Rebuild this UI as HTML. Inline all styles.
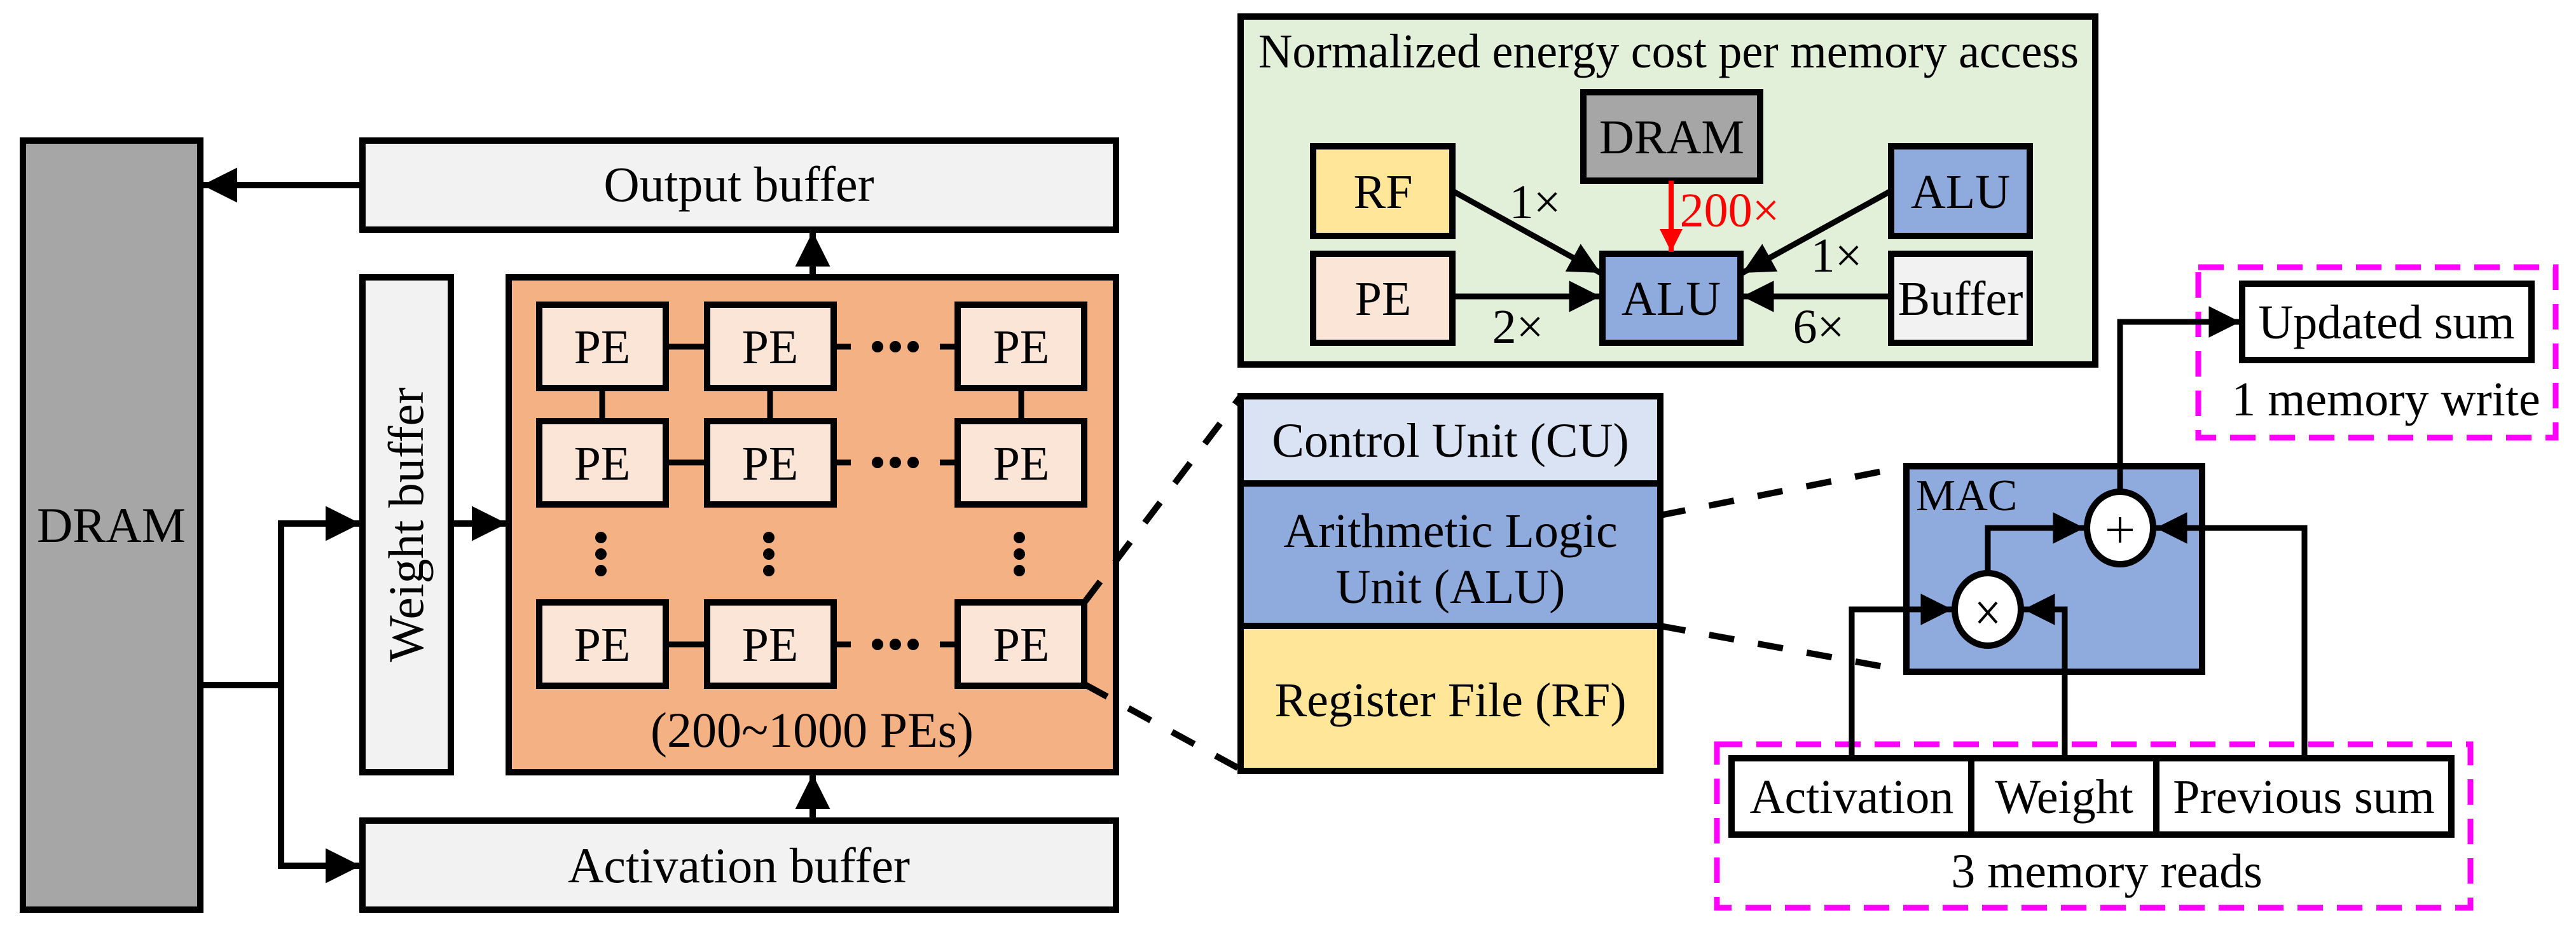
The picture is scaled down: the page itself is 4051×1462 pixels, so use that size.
<!DOCTYPE html>
<html><head><meta charset="utf-8"><style>
html,body{margin:0;padding:0;background:#fff;}
svg{display:block;}
svg text{font-family:"Liberation Serif","DejaVu Serif",serif !important;}
</style></head><body>
<svg width="4051" height="1462" viewBox="0 0 4051 1462" xmlns="http://www.w3.org/2000/svg" font-family="Liberation Serif, DejaVu Serif, serif">
<defs>
<marker id="ah" viewBox="0 0 10 10" refX="10" refY="5" markerWidth="5.5" markerHeight="5.5" markerUnits="strokeWidth" orient="auto"><path d="M0,0 L10,5 L0,10 z" fill="#000"/></marker>
<marker id="ahr" viewBox="0 0 10 10" refX="10" refY="5" markerWidth="4.5" markerHeight="4.5" markerUnits="strokeWidth" orient="auto"><path d="M0,0 L10,5 L0,10 z" fill="#f00"/></marker>
</defs>
<g stroke="#000" stroke-width="10">
<rect x="36" y="221" width="279" height="1209" fill="#a6a6a6"/>
<rect x="570" y="221" width="1185" height="140" fill="#f2f2f2"/>
<rect x="570" y="436" width="139" height="778" fill="#f2f2f2"/>
<rect x="800" y="436" width="955" height="778" fill="#f4b183"/>
<rect x="570" y="1290" width="1185" height="140" fill="#f2f2f2"/>
</g>
<text x="175" y="852" font-size="78" text-anchor="middle">DRAM</text>
<text x="1162" y="316" font-size="78" text-anchor="middle">Output buffer</text>
<text x="1162" y="1387" font-size="78" text-anchor="middle">Activation buffer</text>
<text transform="translate(665,825) rotate(-90)" font-size="78" text-anchor="middle">Weight buffer</text>
<text x="1277" y="1174" font-size="78" text-anchor="middle">(200~1000 PEs)</text>
<g stroke="#000" stroke-width="10" fill="none">
<line x1="570" y1="291" x2="318" y2="291" marker-end="url(#ah)"/>
<line x1="1278" y1="436" x2="1278" y2="364" marker-end="url(#ah)"/>
<line x1="1278" y1="1290" x2="1278" y2="1217" marker-end="url(#ah)"/>
<line x1="709" y1="823" x2="797" y2="823" marker-end="url(#ah)"/>
<polyline points="315,1077 442,1077"/>
<polyline points="442,1361 442,823 567,823" marker-end="url(#ah)"/>
<polyline points="442,1077 442,1361 567,1361" marker-end="url(#ah)"/>
</g>
<g stroke="#000" stroke-width="9">
<line x1="1047" y1="545" x2="1112" y2="545"/><line x1="1047" y1="727" x2="1112" y2="727"/><line x1="1047" y1="1013" x2="1112" y2="1013"/>
<line x1="1311" y1="545" x2="1338" y2="545"/><line x1="1478" y1="545" x2="1506" y2="545"/>
<line x1="1311" y1="727" x2="1338" y2="727"/><line x1="1478" y1="727" x2="1506" y2="727"/>
<line x1="1311" y1="1013" x2="1338" y2="1013"/><line x1="1478" y1="1013" x2="1506" y2="1013"/>
<line x1="947" y1="610" x2="947" y2="660"/><line x1="1211" y1="610" x2="1211" y2="660"/><line x1="1606" y1="610" x2="1606" y2="660"/>
</g>
<g fill="#000">
<circle cx="1380" cy="545" r="9"/><circle cx="1408" cy="545" r="9"/><circle cx="1436" cy="545" r="9"/>
<circle cx="1380" cy="727" r="9"/><circle cx="1408" cy="727" r="9"/><circle cx="1436" cy="727" r="9"/>
<circle cx="1380" cy="1013" r="9"/><circle cx="1408" cy="1013" r="9"/><circle cx="1436" cy="1013" r="9"/>
<circle cx="945" cy="845" r="9"/><circle cx="945" cy="871" r="9"/><circle cx="945" cy="897" r="9"/>
<circle cx="1209" cy="845" r="9"/><circle cx="1209" cy="871" r="9"/><circle cx="1209" cy="897" r="9"/>
<circle cx="1603" cy="845" r="9"/><circle cx="1603" cy="871" r="9"/><circle cx="1603" cy="897" r="9"/>
</g>
<g stroke="#000" stroke-width="10" fill="#fbe5d6">
<rect x="848" y="479" width="199" height="131"/><rect x="1112" y="479" width="199" height="131"/><rect x="1506" y="479" width="199" height="131"/>
<rect x="848" y="662" width="199" height="131"/><rect x="1112" y="662" width="199" height="131"/><rect x="1506" y="662" width="199" height="131"/>
<rect x="848" y="947" width="199" height="131"/><rect x="1112" y="947" width="199" height="131"/><rect x="1506" y="947" width="199" height="131"/>
</g>
<g font-size="76" text-anchor="middle">
<text x="947" y="571">PE</text><text x="1211" y="571">PE</text><text x="1606" y="571">PE</text>
<text x="947" y="754">PE</text><text x="1211" y="754">PE</text><text x="1606" y="754">PE</text>
<text x="947" y="1039">PE</text><text x="1211" y="1039">PE</text><text x="1606" y="1039">PE</text>
</g>
<g stroke="#000" stroke-width="10" stroke-dasharray="40,38" fill="none">
<line x1="1706" y1="946" x2="1952" y2="622"/>
<line x1="1706" y1="1076" x2="1952" y2="1210"/>
<line x1="2611" y1="810" x2="3000" y2="733"/>
<line x1="2611" y1="984" x2="3000" y2="1055"/>
</g>
<g stroke="#000" stroke-width="10">
<rect x="1951" y="623" width="660" height="137" fill="#dae3f3"/>
<rect x="1951" y="760" width="660" height="224" fill="#8faadc"/>
<rect x="1951" y="984" width="660" height="228" fill="#ffe699"/>
</g>
<g font-size="76" text-anchor="middle">
<text x="2281" y="718">Control Unit (CU)</text>
<text x="2281" y="860">Arithmetic Logic</text>
<text x="2281" y="948">Unit (ALU)</text>
<text x="2281" y="1126">Register File (RF)</text>
</g>
<g stroke="#000" stroke-width="10">
<rect x="1951" y="26" width="1344" height="547" fill="#e2f0d9"/>
<rect x="2490" y="145" width="278" height="139" fill="#a6a6a6"/>
<rect x="2065" y="230" width="219" height="141" fill="#ffe699"/>
<rect x="2065" y="399" width="219" height="140" fill="#fbe5d6"/>
<rect x="2520" y="399" width="217" height="140" fill="#8faadc"/>
<rect x="2974" y="230" width="218" height="141" fill="#8faadc"/>
<rect x="2974" y="399" width="218" height="140" fill="#f2f2f2"/>
</g>
<text x="2624" y="106" font-size="76" text-anchor="middle" textLength="1290" lengthAdjust="spacingAndGlyphs">Normalized energy cost per memory access</text>
<g font-size="76" text-anchor="middle">
<text x="2629" y="241">DRAM</text>
<text x="2175" y="327">RF</text>
<text x="2175" y="495">PE</text>
<text x="2628" y="495">ALU</text>
<text x="3083" y="327">ALU</text>
<text x="3083" y="495">Buffer</text>
<text x="2414" y="343">1×</text>
<text x="2720" y="356" fill="#f00">200×</text>
<text x="2888" y="427">1×</text>
<text x="2387" y="539">2×</text>
<text x="2860" y="539">6×</text>
</g>
<g stroke="#000" stroke-width="9" fill="none">
<line x1="2284" y1="300" x2="2517" y2="429" marker-end="url(#ah)"/>
<line x1="2974" y1="300" x2="2740" y2="429" marker-end="url(#ah)"/>
<line x1="2284" y1="466" x2="2517" y2="466" marker-end="url(#ah)"/>
<line x1="2974" y1="466" x2="2740" y2="466" marker-end="url(#ah)"/>
</g>
<line x1="2628" y1="284" x2="2628" y2="396" stroke="#f00" stroke-width="8" marker-end="url(#ahr)"/>
<g stroke="#ff00ff" stroke-width="9" stroke-dasharray="40,22" fill="none">
<rect x="3457" y="420" width="562" height="268"/>
<rect x="2700" y="1170" width="1185" height="257"/>
</g>
<text x="3752" y="653" font-size="76" text-anchor="middle">1 memory write</text>
<text x="3313" y="1395" font-size="76" text-anchor="middle">3 memory reads</text>
<g stroke="#000" stroke-width="10" fill="#fff">
<rect x="3526" y="446" width="455" height="120"/>
<rect x="2723" y="1192" width="377" height="120"/>
<rect x="3100" y="1192" width="291" height="120"/>
<rect x="3391" y="1192" width="464" height="120"/>
</g>
<g font-size="76" text-anchor="middle">
<text x="3753" y="532">Updated sum</text>
<text x="2912" y="1278">Activation</text>
<text x="3246" y="1278">Weight</text>
<text x="3623" y="1278">Previous sum</text>
</g>
<rect x="2998" y="733" width="465" height="323" fill="#8faadc" stroke="#000" stroke-width="10"/>
<text x="3013" y="802" font-size="70">MAC</text>
<g stroke="#000" stroke-width="9" fill="none">
<polyline points="3334,774 3334,506 3523,506" marker-end="url(#ah)"/>
<polyline points="2912,1192 2912,958 3070,958" marker-end="url(#ah)"/>
<polyline points="3247,1192 3247,958 3182,958" marker-end="url(#ah)"/>
<polyline points="3624,1192 3624,830 3390,830" marker-end="url(#ah)"/>
<polyline points="3126,902 3126,830 3278,830" marker-end="url(#ah)"/>
</g>
<g stroke="#000" stroke-width="10" fill="#fff">
<ellipse cx="3334" cy="830" rx="52" ry="57"/>
<ellipse cx="3126" cy="958" rx="52" ry="57"/>
</g>
<g stroke="#000" stroke-width="4">
<line x1="3314" y1="833" x2="3354" y2="833"/><line x1="3334" y1="813" x2="3334" y2="853"/>
<line x1="3112" y1="947" x2="3140" y2="979"/><line x1="3140" y1="947" x2="3112" y2="979"/>
</g>
</svg>
</body></html>
